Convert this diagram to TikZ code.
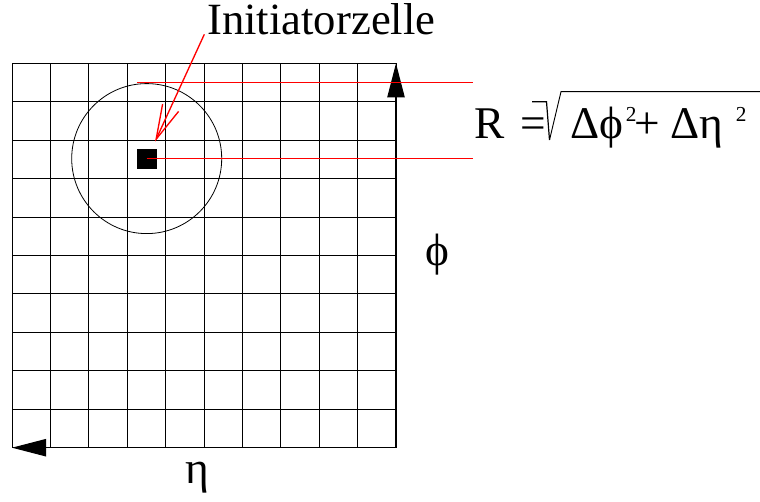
\documentclass[tikz,border=0pt]{standalone}
\usepackage{fontspec}
\setmainfont{Liberation Serif}
\usetikzlibrary{arrows.meta}

\begin{document}
\begin{tikzpicture}[x=0.75pt,y=-0.75pt,
    big/.style={font=\fontsize{34}{40}\selectfont, inner sep=0pt, anchor=base west},
    small/.style={font=\fontsize{16}{18}\selectfont, inner sep=0pt, anchor=base west},
    gridline/.style={line width=0.7pt},
    axisarrow/.style={line width=0.8pt, -{Triangle[length=25.5pt,width=13pt]}},
    redline/.style={draw=red, line width=1.1pt},
    redarrow/.style={red, line width=1pt, -{Straight Barb[length=26pt,width=13.2pt,line width=1pt]}}]
  \useasboundingbox (0,0) rectangle (760,502);

  % Coordinates
  \coordinate (NW) at (12.0, 63.3);
  \coordinate (NE) at (396.0, 63.3);
  \coordinate (SW) at (12.0, 447.7);
  \coordinate (SE) at (396.0, 447.7);
  \coordinate (M)  at (146.7, 158.6);
  \coordinate (T)  at (155.0, 141.7);
  \coordinate (E)  at (473.0, 158.6);

  % Grid
  \foreach \i in {0,...,10} {
    \draw[gridline] (12+38.4*\i, 63.3) -- (12+38.4*\i, 447.7);
    \draw[gridline] (12, 63.3+38.44*\i) -- (396, 63.3+38.44*\i);
  }
  \draw[axisarrow] (SE) -- (NE);
  \draw[axisarrow] (SE) -- (SW);

  % Cone and seed cell
  \draw[line width=0.6pt] (M) circle[radius=56.25pt];
  \node[fill=black, inner sep=0pt, minimum size=15pt] (seed) at (M) {};

  % Red markers
  \draw[redline] (137.3, 82.5) -- (473.0, 82.5);
  \draw[redline] (seed.center) -- (E);
  \node[big, font=\fontsize{33.5}{40}\selectfont] (init) at (207.0, 34.3) {Initiatorzelle};
  \draw[redarrow] ([xshift=-2.0]init.base west) -- (T);

  % Axis labels
  \node[big, anchor=center] (phi) at (437.0, 255.0) {ϕ};
  \node[big] (eta) at (185.0, 483.0) {η};

  % Formula
  \node[big] (R) at (474.0, 139.0) {R};
  \node[big] (eq) at (520.0, 139.0) {=};
  \draw[line width=0.9pt] (532.0, 101.7) -- (546.5, 101.7) -- (549.5, 140.0);
  \draw[line width=0.7pt] (549.5, 140.0) -- (561.0, 91.7) -- (760.0, 91.7);
  \node[big] (dphi) at (570.0, 139.0) {Δϕ};
  \node[small] (sq1) at (625.5, 121.7) {2};
  \node[big] (plus) at (634.0, 139.0) {+};
  \node[big] (deta) at (670.0, 139.0) {Δη};
  \node[small] (sq2) at (735.5, 121.7) {2};
\end{tikzpicture}
\end{document}
